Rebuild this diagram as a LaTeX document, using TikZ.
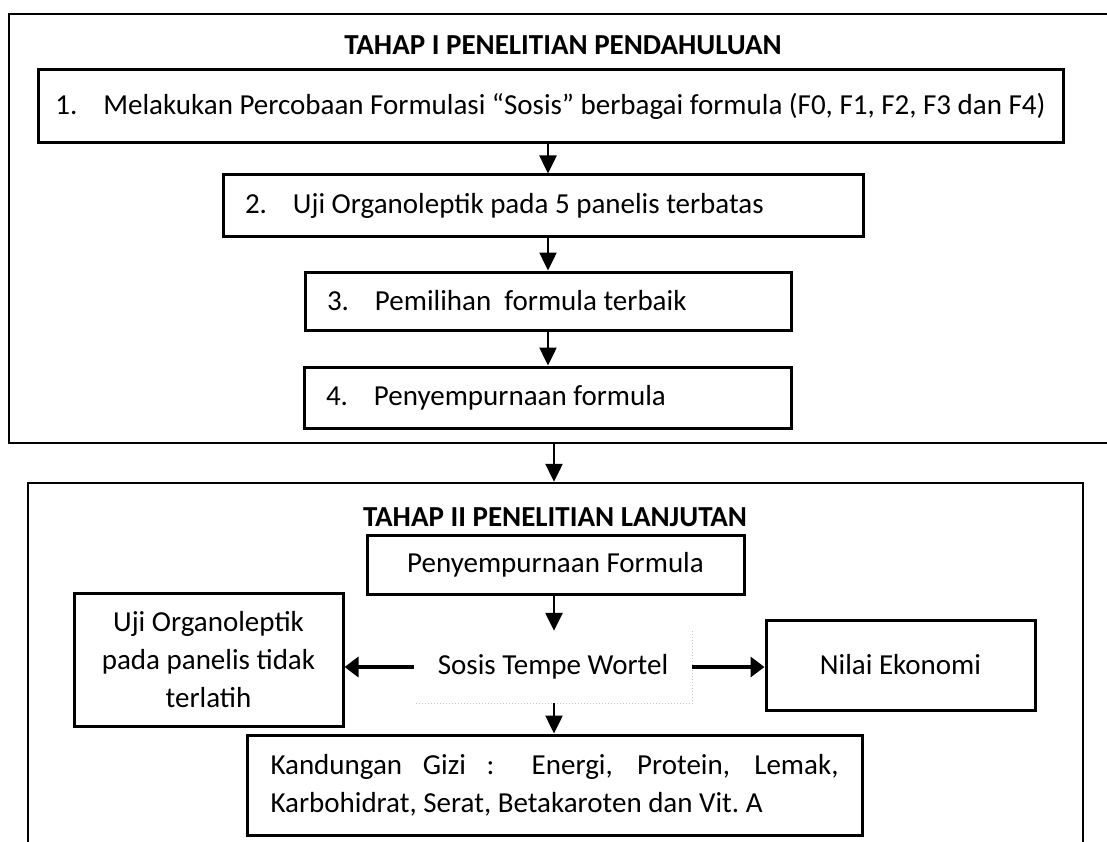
\documentclass[tikz,border=0pt]{standalone}
\usepackage{fontspec}
\setmainfont{Carlito}
\usetikzlibrary{arrows.meta}
\newcommand{\nomor}[1]{\makebox[48pt][l]{#1.}}

\begin{document}
\begin{tikzpicture}[x=1pt,y=-1pt]
  \tikzstyle{every node}=[font=\fontsize{29}{38}\selectfont]
  \tikzstyle{tahap}=[draw, line width=2.5pt, inner sep=0pt]
  \tikzstyle{judul}=[font=\fontsize{29}{38}\selectfont\bfseries]
  \tikzstyle{langkah}=[draw, line width=3pt, inner xsep=22pt, inner ysep=0pt, align=flush left]
  \tikzstyle{kotak}=[draw, line width=3pt, inner sep=0pt, align=center]
  \tikzstyle{panah}=[-{Triangle[length=18pt,width=17pt]}, line width=2.5pt]
  \tikzstyle{panahtebal}=[-{Triangle[length=14pt,width=20pt]}, line width=4pt]
  \useasboundingbox (0,0) rectangle (1107,842);
  \coordinate (sumbuI) at (548,0);
  \coordinate (sumbuII) at (554,0);
  % tahap I
  \node[tahap, minimum width=1103pt, minimum height=429pt] (tahapI) at (560.5,228.5) {};
  \node[judul] (judulI) at (563,45) {TAHAP I PENELITIAN PENDAHULUAN};
  \node[langkah, inner xsep=15pt, minimum width=1025pt, minimum height=73pt] (b1) at (550.5,106.5)
    {\nomor{1}Melakukan Percobaan Formulasi “Sosis” berbagai formula (F0, F1, F2, F3 dan F4)};
  \node[langkah, text width=596pt, minimum height=62pt] (b2) at (543,206)
    {\nomor{2}Uji Organoleptik pada 5 panelis terbatas};
  \node[langkah, text width=442pt, minimum height=58pt] (b3) at (548,301)
    {\nomor{3}Pemilihan\ \ formula terbaik};
  \node[langkah, text width=443pt, minimum height=61pt] (b4) at (547.5,397.5)
    {\nomor{4}Penyempurnaan formula};
  \draw[panah] (b1.south -| sumbuI) -- (b2.north -| sumbuI);
  \draw[panah] (b2.south -| sumbuI) -- (b3.north -| sumbuI);
  \draw[panah] (b3.south -| sumbuI) -- (b4.north -| sumbuI);
  % tahap II
  \node[tahap, minimum width=1055pt, minimum height=367pt] (tahapII) at (555.5,666.5) {};
  \draw[panah] (tahapI.south -| sumbuII) -- (tahapII.north -| sumbuII);
  \node[judul] (judulII) at (555,517) {TAHAP II PENELITIAN LANJUTAN};
  \node[kotak, minimum width=377pt, minimum height=59pt] (formula) at (555.5,564.5) {Penyempurnaan Formula};
  \node[kotak, minimum width=269pt, minimum height=133pt] (uji) at (208.5,660)
    {Uji Organoleptik\\pada panelis tidak\\terlatih};
  \node[inner sep=0pt, minimum width=278pt, minimum height=72pt] (sosis) at (553,667) {Sosis Tempe Wortel};
  \draw[gray!45, dotted, line width=1pt] (sosis.north east) -- (sosis.south east) -- (sosis.south west);
  \node[kotak, minimum width=269pt, minimum height=90pt] (nilai) at (900.5,665) {Nilai Ekonomi};
  \node[kotak, text width=568pt, align=flush left, minimum width=615pt, minimum height=100pt] (gizi) at (554.5,785)
    {\makebox[568pt][s]{Kandungan Gizi : Energi, Protein, Lemak,}\\Karbohidrat, Serat, Betakaroten dan Vit.\ A};
  \draw[panah] (formula.south -| sumbuII) -- (sosis.north -| sumbuII);
  \draw[panah] (sosis.south -| sumbuII) -- (gizi.north -| sumbuII);
  \draw[panahtebal] (sosis.west) -- (sosis.west -| uji.east);
  \draw[panahtebal] (sosis.east) -- (sosis.east -| nilai.west);
\end{tikzpicture}
\end{document}
